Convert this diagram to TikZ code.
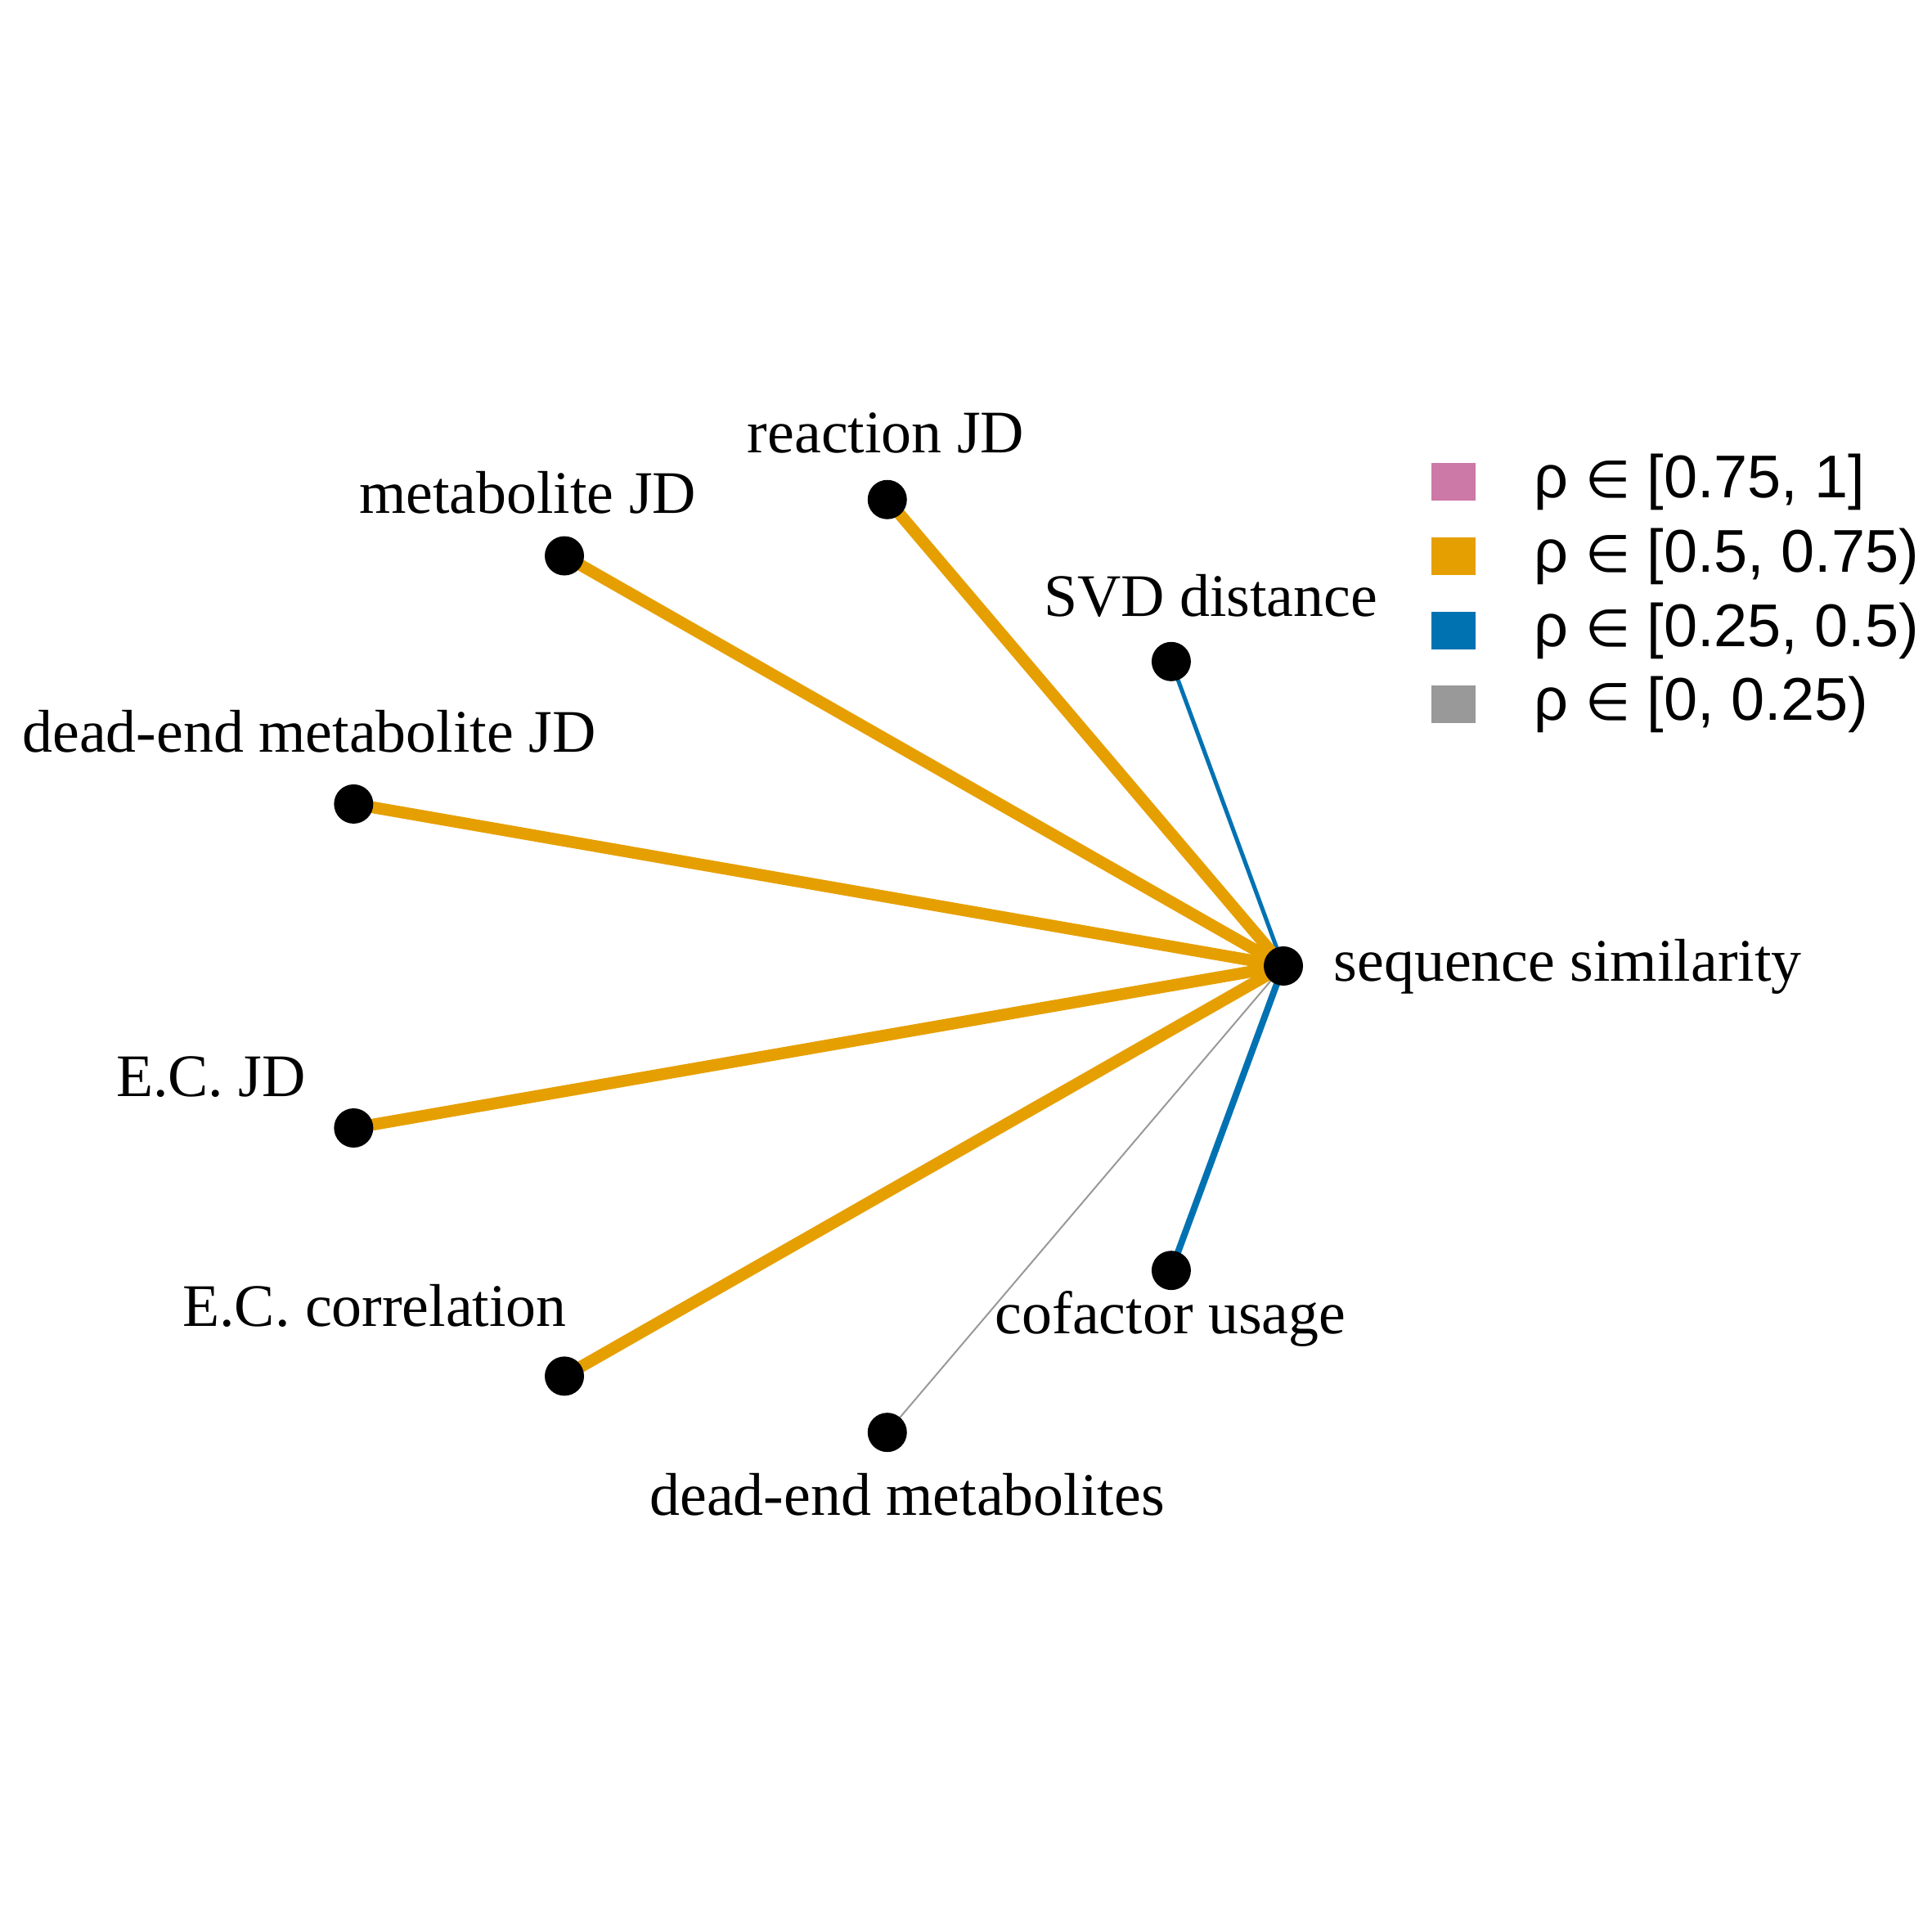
\documentclass[tikz,border=0pt]{standalone}
\usepackage{fontspec}
\setmainfont{Liberation Serif}
\newfontfamily\legendfont{Liberation Sans}
\newfontfamily\symbfont{DejaVu Sans}
\usetikzlibrary{positioning, backgrounds}
\definecolor{rhopink}{HTML}{CC79A7}
\definecolor{rhoorange}{HTML}{E69F00}
\definecolor{rhoblue}{HTML}{0072B2}
\definecolor{rhogray}{HTML}{999999}
\newcommand{\elem}{{\fontsize{18}{20}\symbfont ∈}}
\tikzset{
	every node/.style={
		font=\fontsize{21}{25}\selectfont
	},
	dot/.style={
		shape=circle,
		fill=black,
		inner sep=0pt,
		minimum size=0.48cm
	},
	lbl/.style={
		anchor=base,
		inner sep=0pt
	},
	strong/.style={
		draw=rhoorange,
		line width=0.145cm
	},
	moderate/.style={
		draw=rhoblue,
		line width=#1
	},
	weak/.style={
		draw=rhogray,
		line width=0.02cm
	},
	swatch/.style={
		shape=rectangle,
		inner sep=0pt,
		minimum width=0.54cm,
		minimum height=0.46cm
	},
	entry/.style={
		anchor=base west,
		inner sep=0pt,
		font=\fontsize{21}{25}\selectfont\legendfont
	}
}

\begin{document}
\begin{tikzpicture}
  \useasboundingbox (0,0) rectangle (23.62,23.62);
  \coordinate (C) at (9.83,11.81);

  \node[dot] (seq)   at ([shift={(0:5.86cm and 5.79cm)}]C)   {};
  \node[dot] (svd)   at ([shift={(40:5.86cm and 5.79cm)}]C)  {};
  \node[dot] (rjd)   at ([shift={(80:5.86cm and 5.79cm)}]C)  {};
  \node[dot] (mjd)   at ([shift={(120:5.86cm and 5.79cm)}]C) {};
  \node[dot] (demjd) at ([shift={(160:5.86cm and 5.79cm)}]C) {};
  \node[dot] (ecjd)  at ([shift={(200:5.86cm and 5.79cm)}]C) {};
  \node[dot] (eccor) at ([shift={(240:5.86cm and 5.79cm)}]C) {};
  \node[dot] (dem)   at ([shift={(280:5.86cm and 5.79cm)}]C) {};
  \node[dot] (cof)   at ([shift={(320:5.86cm and 5.79cm)}]C) {};

  \begin{pgfonlayer}{background}
  \path (seq.center) edge [moderate=0.05cm] (svd.center)
                     edge [strong]          (rjd.center)
                     edge [strong]          (mjd.center)
                     edge [strong]          (demjd.center)
                     edge [strong]          (ecjd.center)
                     edge [strong]          (eccor.center)
                     edge [weak]            (dem.center)
                     edge [moderate=0.08cm] (cof.center);
  \end{pgfonlayer}

  % labels
  \node[lbl, anchor=base west] (seqL) at (16.30,11.62) {sequence similarity};
  \node[lbl] (svdL)   at (14.80,16.08) {SVD distance};
  \node[lbl] (rjdL)   at (10.83,18.08) {reaction JD};
  \node[lbl] (mjdL)   at (6.45,17.34)  {metabolite JD};
  \node[lbl] (demjdL) at (3.78,14.42)  {dead-end metabolite JD};
  \node[lbl] (ecjdL)  at (2.58,10.21)  {E.C. JD};
  \node[lbl] (eccorL) at (4.58,7.40)   {E.C. correlation};
  \node[lbl] (demL)   at (11.09,5.09)  {dead-end metabolites};
  \node[lbl] (cofL)   at (14.31,7.31)  {cofactor usage};

  % legend
  \node[swatch, fill=rhopink]   (k1) at (17.77,17.73) {};
  \node[swatch, fill=rhoorange] (k2) at (17.77,16.82) {};
  \node[swatch, fill=rhoblue]   (k3) at (17.77,15.91) {};
  \node[swatch, fill=rhogray]   (k4) at (17.77,15.01) {};
  \node[entry] (e1) at (18.75,17.53) {ρ \elem{} [0.75, 1]};
  \node[entry] (e2) at (18.75,16.62) {ρ \elem{} [0.5, 0.75)};
  \node[entry] (e3) at (18.75,15.71) {ρ \elem{} [0.25, 0.5)};
  \node[entry] (e4) at (18.75,14.81) {ρ \elem{} [0, 0.25)};
\end{tikzpicture}
\end{document}
